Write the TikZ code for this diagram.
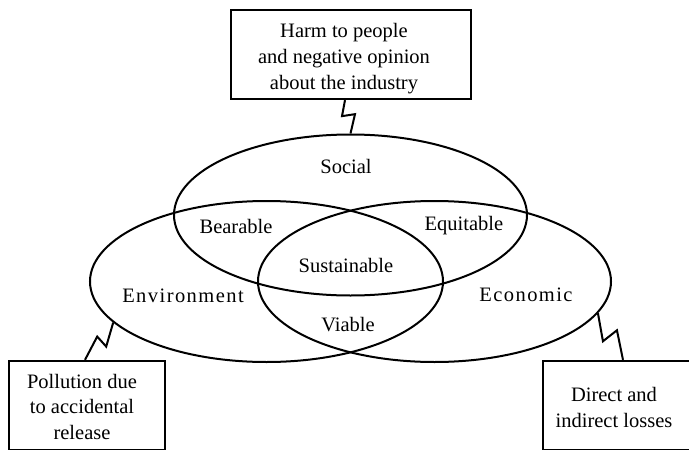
\documentclass[tikz,border=0pt]{standalone}
\usepackage{fontspec}
\setmainfont{Liberation Serif}
\newfontfamily\spacedfont[LetterSpace=7]{Liberation Serif}
\usetikzlibrary{shapes.geometric}
\begin{document}
\begin{tikzpicture}[x=1pt,y=-1pt,
  circ/.style={draw, ellipse, line width=2pt, inner sep=0pt,
    minimum width=353pt, minimum height=161pt},
  frame/.style={draw, line width=2.3pt, minimum width=240pt, minimum height=89pt, inner sep=0pt},
  boxtext/.style={align=center, inner sep=0pt, font=\fontsize{20.5}{25.5}\selectfont},
  region/.style={font=\fontsize{20.5}{25}\selectfont},
  bolt/.style={line width=2pt, line join=miter}]
\useasboundingbox (0,0) rectangle (689,450);

% the three overlapping pillars
\node[circ] (social) at (350.5,215) {};
\node[circ] (env) at (266.5,281.5) {};
\node[circ] (econ) at (434.5,281.5) {};

% pillar and overlap names
\node[region] (lsocial) at (346,166) {Social};
\node[region] (lbear) at (236,226) {Bearable};
\node[region] (lequi) at (464,226) {Equitable};
\node[region] (lsust) at (346,265) {Sustainable};
\node[region] (lenv) at (183,296) {\spacedfont Environment};
\node[region] (lecon) at (526,295) {\spacedfont Economic};
\node[region] (lviab) at (348,325) {Viable};

% consequence boxes
\node[frame,
  label={[boxtext, font=\fontsize{20.5}{26}\selectfont, xshift=-7pt, yshift=-4pt]center:Harm to people\\and negative opinion\\about the industry}]
  (harm) at (351,54.5) {};
\node[frame, minimum width=156pt,
  label={[boxtext, xshift=-5pt, yshift=-1pt]center:Pollution due\\to accidental\\release}]
  (poll) at (87,405.5) {};
\node[frame, minimum width=156pt,
  label={[boxtext, xshift=-7pt, yshift=-2pt]center:Direct and\\indirect losses}]
  (loss) at (621,405.5) {};

% lightning-bolt links
\draw[bolt] ([xshift=-6pt]harm.south) -- ++(-3,16) -- ++(13,-2) -- (social.north);
\draw[bolt] (env.195) -- ++(-7,24) -- ++(-9,-10) -- ([xshift=-2pt]poll.north);
\draw[bolt] (econ.349) -- ++(5,28) -- ++(14,-11) -- ([xshift=2pt]loss.north);
\end{tikzpicture}
\end{document}
